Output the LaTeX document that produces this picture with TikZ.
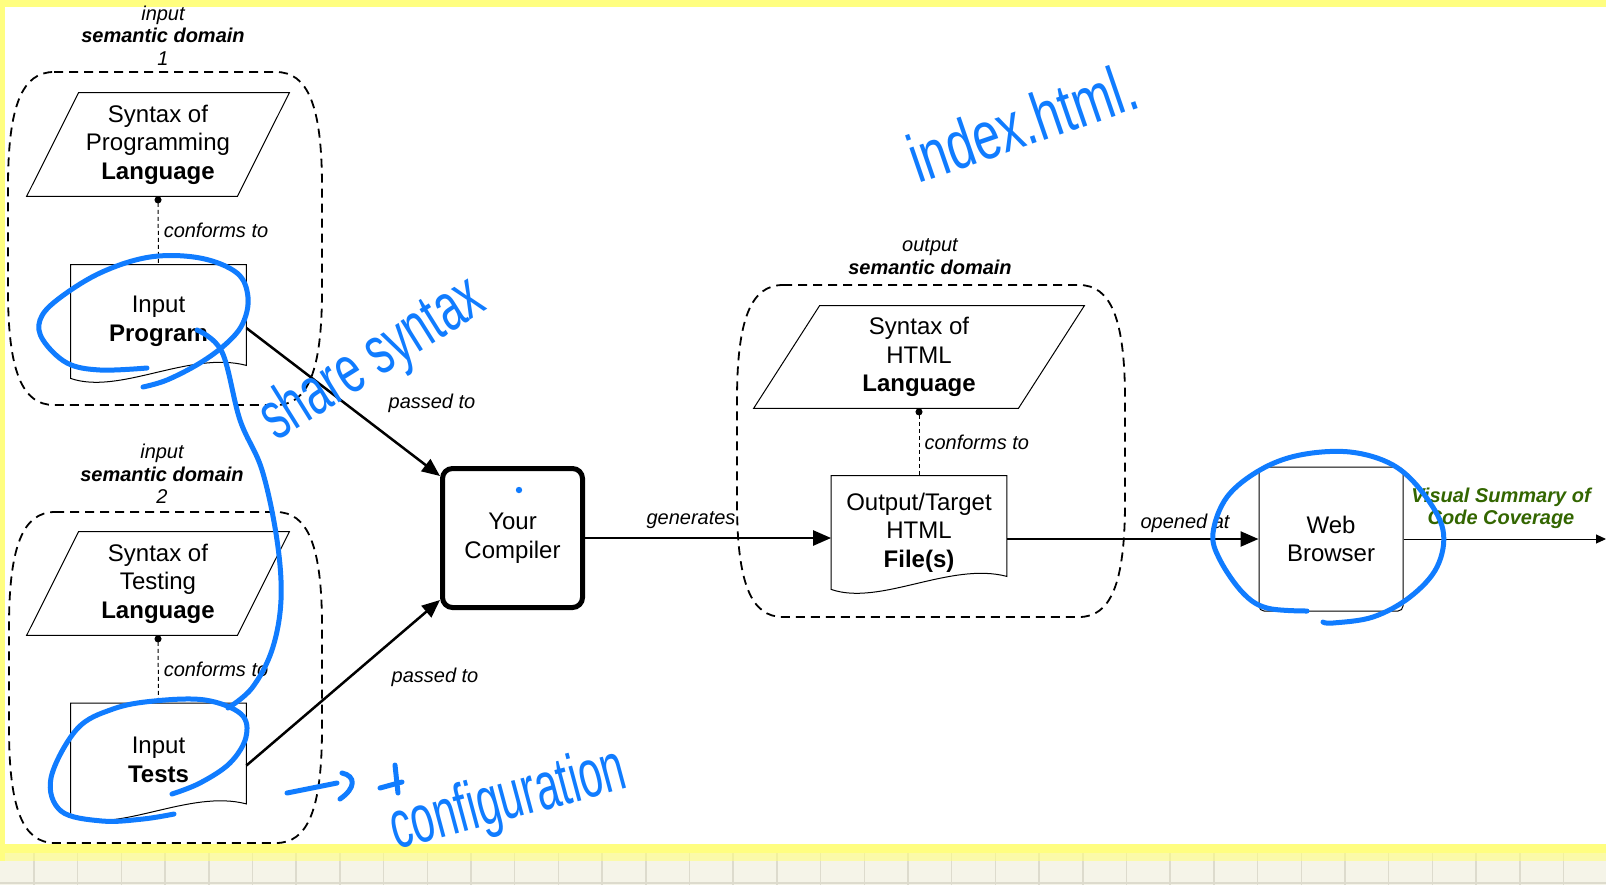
\documentclass[tikz,border=0pt]{standalone}
\usepackage{fontspec}
\setmainfont{Liberation Sans}
\newfontfamily\handfont{Liberation Sans}
\usetikzlibrary{arrows.meta,calc}

\definecolor{hlyellow}{RGB}{255,254,128}
\definecolor{paper}{RGB}{245,244,232}
\definecolor{gridgray}{RGB}{221,219,205}
\definecolor{penblue}{RGB}{16,124,255}
\definecolor{notegreen}{RGB}{51,102,0}

% parallelogram outline around a node: top edge shifted right by #2
\newcommand\slantoutline[2]{%
  \draw[outline] ([xshift=#2]#1.north west) -- (#1.north east)
    -- ([xshift=-#2]#1.south east) -- (#1.south west) -- cycle;}
% document outline (wavy bottom edge) around a node
\newcommand\docoutline[1]{%
  \draw[outline] (#1.north west) -- (#1.north east) -- ([yshift=6.5pt]#1.south east)
    .. controls ([xshift=59.5pt,yshift=14pt]#1.south west)
    and ([xshift=24.5pt,yshift=-8.5pt]#1.south west) .. (#1.south west) -- cycle;}
% dashed domain outline: #1,#2 top-left, #3,#4 bottom-right
\newcommand\domainoutline[4]{%
  \draw[domainline] ({#1+46},#2) -- ({#3-46},#2)
    .. controls ({#3-14},#2) and (#3,{#2+34}) .. (#3,{#2+115})
    -- (#3,{#4-115})
    .. controls (#3,{#4-34}) and ({#3-14},#4) .. ({#3-46},#4)
    -- ({#1+46},#4)
    .. controls ({#1+14},#4) and (#1,{#4-34}) .. (#1,{#4-115})
    -- (#1,{#2+115})
    .. controls (#1,{#2+34}) and ({#1+14},#2) .. cycle;}

\begin{document}
\begin{tikzpicture}[x=0.5pt,y=-0.5pt,
  txt/.style={font=\fontsize{12}{14.3}\selectfont, align=center, inner sep=0pt},
  lbl/.style={font=\fontsize{10}{11.25}\selectfont\itshape, align=center, inner sep=0pt},
  outline/.style={draw=black, line width=0.5pt, line join=miter},
  slant/.style={txt, minimum width=131pt, minimum height=51.5pt},
  wideslant/.style={txt, minimum width=165pt, minimum height=51pt},
  docbox/.style={txt, minimum width=87.5pt, minimum height=56.5pt},
  domainline/.style={draw=black, line width=0.9pt, dash pattern=on 4.5pt off 3pt},
  conform/.style={draw=black, line width=0.5pt, dash pattern=on 2pt off 1.5pt,
    {Circle[length=3.5pt]}-},
  flow/.style={draw=black, line width=1.25pt, -{Triangle[length=9pt,width=7.5pt]}},
  thinflow/.style={draw=black, line width=0.5pt, -{Triangle[length=5pt,width=4.5pt]}},
  pen/.style={draw=penblue, line width=2.5pt, line cap=round, line join=round},
  handtext/.style={text=penblue, font=\handfont\fontsize{34}{34}\selectfont,
    inner sep=0pt, anchor=base west}]

\useasboundingbox (0,0) rectangle (1606,885);
\fill[white] (0,0) rectangle (1606,885);

% ---- page frame: highlight bands and ruled strip below
\fill[paper] (0,853) rectangle (1606,885);
\foreach \i in {0,...,36}
  \draw[gridgray, line width=0.75pt] ({34+43.7*\i},853) -- ({34+43.7*\i},885);
\draw[gridgray, line width=0.75pt] (0,883) -- (1606,883);
\fill[hlyellow] (0,844) rectangle (1606,853);
\fill[hlyellow, opacity=0.6] (0,853) rectangle (1606,861);
\fill[hlyellow] (0,0) rectangle (1606,7);
\fill[hlyellow] (0,0) rectangle (5,861);

% ---- domain outlines and their captions
\domainoutline{8}{72}{322}{405}
\domainoutline{9}{512}{322}{843}
\domainoutline{737}{285}{1125}{617}
\node[lbl] (cap1) at (163,35.5) {input\\\textbf{semantic domain}\\1};
\node[lbl] (cap2) at (162,474) {input\\\textbf{semantic domain}\\2};
\node[lbl] (cap3) at (930,256.5) {output\\\textbf{semantic domain}};

% ---- input domain 1
\node[slant] (synprog) at (158,144.5) {Syntax of\\Programming\\\textbf{Language}};
\slantoutline{synprog}{26pt}
\node[docbox] (prog) at (158.5,321.5) {Input\\\textbf{Program}};
\docoutline{prog}
\draw[conform] (synprog.south) -- (prog.north)
  node[lbl, midway, right, xshift=2.5pt] (conf1) {conforms to};

% ---- input domain 2
\node[slant] (syntest) at (158,583.5) {Syntax of\\Testing\\\textbf{Language}};
\slantoutline{syntest}{26pt}
\node[docbox] (tests) at (158.5,760) {Input\\\textbf{Tests}};
\docoutline{tests}
\draw[conform] (syntest.south) -- (tests.north)
  node[lbl, midway, right, xshift=2.5pt] (conf2) {conforms to};

% ---- compiler
\node[txt, draw, line width=2.5pt, rounded corners=5pt,
  minimum width=70pt, minimum height=69.5pt] (comp) at (512.5,538) {Your\\Compiler};
\fill[penblue] (519,490) circle (1.6pt);

% ---- output domain
\node[wideslant] (synhtml) at (919,357) {Syntax of\\HTML\\\textbf{Language}};
\slantoutline{synhtml}{33pt}
\node[docbox] (html) at (919,532.5) {Output/Target\\HTML\\\textbf{File(s)}};
\docoutline{html}
\draw[conform] (synhtml.south) -- (html.north)
  node[lbl, midway, right, xshift=2.5pt] (conf3) {conforms to};

% ---- browser
\node[txt, draw, line width=0.5pt, rounded corners=2.5pt,
  minimum width=72pt, minimum height=72pt] (browser) at (1331,539) {Web\\Browser};
\coordinate (rim) at (1606,539);

% ---- flows
\draw[flow] ([yshift=-3.25pt]prog.east) -- ([yshift=-5pt]comp.north west);
\draw[flow] ([yshift=-2.75pt]tests.east) -- ([yshift=5pt]comp.south west);
\draw[flow] (comp.east) -- (comp.east -| html.west);
\draw[flow] (html.east |- browser.west) -- (browser.west);
\draw[thinflow] (browser.east) -- (rim);

\node[lbl] (pass1) at (432,403) {passed to};
\node[lbl] (pass2) at (435,677) {passed to};
\node[lbl] (gen) at (691,520) {generates};
\node[lbl] (open) at (1185,523) {opened at};
\node[lbl, font=\fontsize{10}{11}\selectfont\bfseries\itshape, text=notegreen]
  (summary) at (1501,508) {Visual Summary of\\Code Coverage};

% ---- pen annotations
\draw[pen] plot[smooth, tension=0.6] coordinates {(147,368) (100,370) (67,363) (43,340)
  (40,320) (57,300) (100,273) (150,257) (200,258) (237,273) (248,297) (243,323)
  (227,343) (200,363) (167,380) (143,387)};
\draw[pen] plot[smooth, tension=0.6] coordinates {(197,330) (222,352) (240,420)
  (262,470) (277,540) (281,600) (272,650) (252,688) (228,708)};
\draw[pen] plot[smooth, tension=0.6] coordinates {(174,814) (143,819) (102,821)
  (61,811) (51,778) (77,729) (113,709) (154,701) (205,700) (241,714) (246,737)
  (230,763) (200,783) (172,794)};
\draw[pen] plot[smooth, tension=0.6] coordinates {(1307,611) (1267,608) (1243,593)
  (1220,560) (1213,533) (1227,497) (1260,470) (1300,455) (1350,452) (1393,465)
  (1423,493) (1443,530) (1437,567) (1410,597) (1373,617) (1333,623) (1323,622)};
\draw[pen] (287,793) -- (337,783);
\draw[pen] (342,773) .. controls (356,776) and (356,788) .. (340,799);
\draw[pen] (380,788) -- (402,782);
\draw[pen] (395,765) -- (398,793);

\node[handtext, rotate=19, xscale=0.72] (idx) at (918,184) {index.html.};
\node[handtext, rotate=32, xscale=0.65] (share) at (276,442) {share syntax};
\node[handtext, rotate=15, xscale=0.62] (cfg) at (396,850) {configuration};

\end{tikzpicture}
\end{document}
